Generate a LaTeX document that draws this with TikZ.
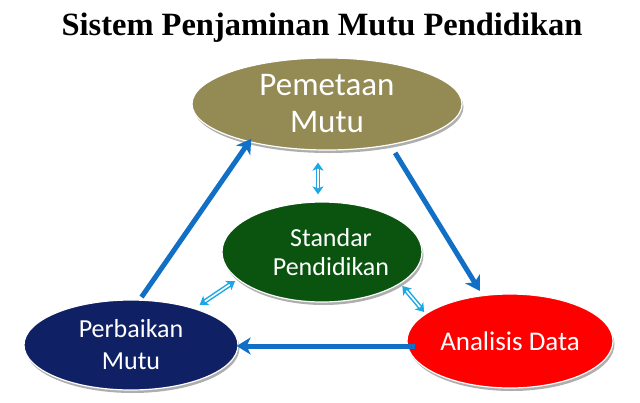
\documentclass[tikz,border=0pt]{standalone}
\usepackage{fontspec}
\setmainfont{Liberation Serif}
\newfontfamily\calib{Carlito}
\usetikzlibrary{shapes.geometric,arrows.meta,shadows}
\definecolor{olivebox}{HTML}{948A54}
\definecolor{greenbox}{HTML}{0B5410}
\definecolor{navybox}{HTML}{0F2064}
\definecolor{redbox}{HTML}{FF0000}
\definecolor{bigblue}{HTML}{1170C5}
\definecolor{smallblue}{HTML}{1CA8E6}
\tikzset{
  ell/.style={ellipse, inner sep=0pt, draw=white, line width=1.2pt, text=white, align=center,
    drop shadow={shadow xshift=1.5pt, shadow yshift=-3pt, opacity=.45, fill=black!70}},
  bigarrow/.style={draw=bigblue, line width=5pt, -{Stealth[length=14pt,width=17pt,inset=4pt]}},
  smallarrow/.style={draw=smallblue, double=white, double distance=1.6pt, line width=1.5pt,
    {Stealth[length=8pt,width=11pt,inset=2pt]}-{Stealth[length=8pt,width=11pt,inset=2pt]}},
}
\begin{document}
\begin{tikzpicture}[x=1pt,y=-1pt]
\useasboundingbox (0,0) rectangle (640,402);
\node[font=\bfseries\fontsize{32.5}{36}\selectfont] (title) at (322,28) {Sistem Penjaminan Mutu Pendidikan};

\node[ell, fill=olivebox, minimum width=270pt, minimum height=92pt,
  font=\calib\fontsize{33}{37}\selectfont] (pm) at (327,104) {Pemetaan\\Mutu};
\node[ell, fill=greenbox, minimum width=200pt, minimum height=100pt,
  font=\calib\fontsize{26}{29}\selectfont] (st) at (322,252) {\hspace*{18pt}Standar\\\hspace*{18pt}Pendidikan};
\node[ell, fill=navybox, minimum width=214pt, minimum height=90pt,
  font=\calib\fontsize{26}{32}\selectfont] (pb) at (131,345) {Perbaikan\\Mutu};
\node[ell, fill=redbox, minimum width=206pt, minimum height=94pt,
  font=\calib\fontsize{27}{32}\selectfont] (ad) at (510,341) {Analisis Data};

\draw[bigarrow, shorten <=3pt, shorten >=-4pt] (pb.79) -- (pm.206);
\draw[bigarrow, shorten <=9pt, shorten >=5pt] (pm.327) -- (ad.121);
\draw[bigarrow, shorten <=-9pt, shorten >=-2pt] ([yshift=-5pt]ad.west) -- ([yshift=-5pt]ad.west -| pb.east);

\draw[smallarrow, shorten <=12pt, shorten >=7pt] ([xshift=-4pt]st.north |- pm.south) -- ([xshift=-4pt]st.north);
\draw[smallarrow, shorten <=3pt, shorten >=6pt] (st.198) -- (pb.30);
\draw[smallarrow, shorten <=3pt, shorten >=2pt] (st.338) -- (ad.162);
\end{tikzpicture}
\end{document}
